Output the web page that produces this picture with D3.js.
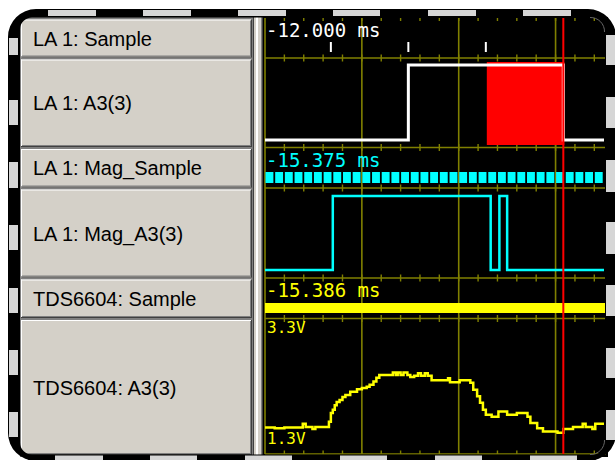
<!DOCTYPE html>
<html><head><meta charset="utf-8">
<script src="https://cdn.jsdelivr.net/npm/d3@7/dist/d3.min.js"></script>
<style>html,body{margin:0;padding:0;background:#fff;overflow:hidden}svg{display:block}</style>
</head><body>
<script>
// ---------------- data ----------------
const rowLabels = ["LA 1: Sample", "LA 1: A3(3)", "LA 1: Mag_Sample", "LA 1: Mag_A3(3)", "TDS6604: Sample", "TDS6604: A3(3)"];
const timeLabels = ["-12.000 ms", "-15.375 ms", "-15.386 ms"];
const voltLabels = ["3.3V", "1.3V"];
const voltDomain = [1.3, 3.3];
const timeDomain = [0, 35];            // time in grid units (10 units per major division)
const sampleTicks = [6.8, 14.8, 22.8]; // LA 1: Sample clock marks
const a3Steps = [[0, 0], [14.8, 1], [30.8, 0], [35, 0]];
const a3Burst = [22.9, 30.8];          // red (fast toggling) region
const magSampleTimes = [0, 1, 2, 3, 4, 5, 6, 7, 8, 9, 10, 11, 12, 13, 14, 15, 16, 17, 18, 19, 20, 21, 22, 23, 24, 25, 26, 27, 28, 29, 30, 31, 32, 33, 34];
const magA3Steps = [[0, 0], [7.0, 1], [23.3, 0], [24.2, 1], [25.0, 0], [35, 0]];
const tdsTime = [0, 1.0, 2.0, 3.9, 4.2, 4.9, 5.2, 6.6, 6.8, 7.0, 7.2, 7.4, 7.7, 8.0, 8.3, 8.8, 9.5, 10.0, 10.5, 10.8, 11.2, 11.5, 11.8, 13.2, 13.5, 13.7, 14.0, 14.3, 14.7, 15.0, 15.4, 15.8, 16.1, 16.5, 16.8, 17.2, 18.9, 19.1, 20.1, 21.2, 21.5, 21.9, 22.2, 22.5, 22.8, 23.4, 24.1, 25.0, 26.0, 27.1, 27.4, 28.1, 28.7, 30.2, 30.8, 31.8, 32.8, 33.1, 33.8, 34.1, 35.0];
const tdsVolt = [1.65, 1.64, 1.65, 1.71, 1.66, 1.63, 1.66, 1.74, 1.88, 1.93, 2.00, 2.05, 2.08, 2.13, 2.16, 2.21, 2.25, 2.27, 2.29, 2.32, 2.37, 2.43, 2.47, 2.51, 2.47, 2.51, 2.47, 2.51, 2.47, 2.44, 2.46, 2.50, 2.46, 2.50, 2.46, 2.39, 2.42, 2.36, 2.39, 2.35, 2.24, 2.14, 2.04, 1.93, 1.85, 1.82, 1.90, 1.85, 1.88, 1.82, 1.72, 1.64, 1.59, 1.57, 1.63, 1.66, 1.71, 1.66, 1.63, 1.71, 1.71];
const cursorTime = 30.8;

// ---------------- layout ----------------
const W = 615, H = 460;
const rowEdges = [18, 58, 147.5, 188, 278, 318.5, 454];
const svg = d3.select("body").append("svg").attr("width", W).attr("height", H);
svg.append("rect").attr("width", W).attr("height", H).attr("fill", "#fff");

const x = d3.scaleLinear().domain(timeDomain).range([265, 604]);
const OLIVE = "#808000";

// ---------------- label panel ----------------
const panel = svg.append("g");
panel.append("rect").attr("x", 20).attr("y", 17).attr("width", 234).attr("height", 440).attr("fill", "#808080");
rowLabels.forEach((lab, i) => {
  const t = rowEdges[i] + 0.5, b = rowEdges[i + 1] + (i === rowLabels.length - 1 ? 2 : 0.5);
  const g = panel.append("g");
  g.append("rect").attr("x", 21).attr("y", t + 1).attr("width", 231).attr("height", b - t - 2).attr("fill", "#d4d0c8");
  g.append("line").attr("x1", 21).attr("x2", 251).attr("y1", t + 1.5).attr("y2", t + 1.5).attr("stroke", "#fff");
  g.append("line").attr("x1", 21.5).attr("x2", 21.5).attr("y1", t + 1).attr("y2", b - 1).attr("stroke", "#fff");
  g.append("line").attr("x1", 21).attr("x2", 252).attr("y1", b - 1.5).attr("y2", b - 1.5).attr("stroke", "#404040");
  g.append("line").attr("x1", 251.5).attr("x2", 251.5).attr("y1", t + 1).attr("y2", b - 1).attr("stroke", "#404040");
  g.append("line").attr("x1", 22).attr("x2", 251).attr("y1", b - 2.5).attr("y2", b - 2.5).attr("stroke", "#808080");
  g.append("line").attr("x1", 250.5).attr("x2", 250.5).attr("y1", t + 2).attr("y2", b - 2).attr("stroke", "#808080");
  g.append("text").attr("x", 33).attr("y", (t + b) / 2 + 7)
    .attr("font-family", "Liberation Sans, Arial, sans-serif").attr("font-size", 20)
    .attr("fill", "#000").text(lab);
});
// splitter
svg.append("rect").attr("x", 253).attr("y", 17).attr("width", 10).attr("height", 440).attr("fill", "#d4d0c8");
[[253.5, "#404040"], [256.5, "#fff"], [257.5, "#fff"], [261.5, "#808080"], [262.5, "#404040"]].forEach(([lx, c]) =>
  svg.append("line").attr("x1", lx).attr("x2", lx).attr("y1", 17).attr("y2", 457).attr("stroke", c));

// ---------------- waveform area ----------------
const wv = svg.append("g");
wv.append("rect").attr("x", 263).attr("y", 17).attr("width", 345).attr("height", 440).attr("fill", "#000");

// grid
const majors = x.ticks(4).filter(d => d > 0);
const minors = d3.range(timeDomain[0] + 2, timeDomain[1], 2);
wv.append("line").attr("x1", x(0)).attr("x2", x(0)).attr("y1", 18).attr("y2", 454).attr("stroke", OLIVE).attr("stroke-width", 1.6);
wv.selectAll(".maj").data(majors).join("line").attr("x1", d => x(d)).attr("x2", d => x(d))
  .attr("y1", 18).attr("y2", 454).attr("stroke", OLIVE).attr("stroke-width", 1.6);
rowEdges.slice(1).forEach((yy, i) => {
  const last = i === rowEdges.length - 2;
  wv.append("line").attr("x1", x(0)).attr("x2", 606).attr("y1", yy).attr("y2", yy).attr("stroke", OLIVE).attr("stroke-width", 1.6);
  wv.selectAll(null).data(minors).join("line").attr("x1", d => x(d)).attr("x2", d => x(d))
    .attr("y1", yy - 3.5).attr("y2", last ? yy : yy + 3.5).attr("stroke", OLIVE).attr("stroke-width", 1.4);
});
wv.selectAll(".topt").data(minors).join("line").attr("x1", d => x(d)).attr("x2", d => x(d))
  .attr("y1", 18).attr("y2", 21).attr("stroke", OLIVE).attr("stroke-width", 1.4);

const mono = "DejaVu Sans Mono, monospace";
// row 1: sample clock
wv.append("text").attr("x", 266).attr("y", 37).attr("font-family", mono).attr("font-size", 19).attr("fill", "#fff").text(timeLabels[0]);
wv.selectAll(".st").data(sampleTicks).join("line").attr("x1", d => x(d)).attr("x2", d => x(d))
  .attr("y1", 42).attr("y2", 52).attr("stroke", "#fff").attr("stroke-width", 2);

// row 2: LA A3(3)
const yA3 = d3.scaleLinear().domain([0, 1]).range([140, 65]);
wv.append("rect").attr("x", x(a3Burst[0])).attr("y", 62).attr("width", x(a3Burst[1]) - x(a3Burst[0]) + 1).attr("height", 83).attr("fill", "#ff0000");
wv.append("path").datum(a3Steps).attr("d", d3.line().x(d => x(d[0])).y(d => yA3(d[1])).curve(d3.curveStepAfter))
  .attr("fill", "none").attr("stroke", "#fff").attr("stroke-width", 3);

// row 3: Mag sample
wv.append("text").attr("x", 266).attr("y", 167).attr("font-family", mono).attr("font-size", 19).attr("fill", "#00ffff").text(timeLabels[1]);
wv.selectAll(".ms").data(magSampleTimes).join("rect").attr("x", d => x(d) + 0.5).attr("y", 172)
  .attr("width", d => x(d + 1) - x(d) - 1.8).attr("height", 11).attr("fill", "#00ffff");

// row 4: Mag A3(3)
const yMag = d3.scaleLinear().domain([0, 1]).range([270, 196]);
wv.append("path").datum(magA3Steps).attr("d", d3.line().x(d => x(d[0])).y(d => yMag(d[1])).curve(d3.curveStepAfter))
  .attr("fill", "none").attr("stroke", "#00ffff").attr("stroke-width", 2.5);

// row 5: TDS sample
wv.append("text").attr("x", 266).attr("y", 297).attr("font-family", mono).attr("font-size", 19).attr("fill", "#ffff00").text(timeLabels[2]);
wv.append("rect").attr("x", x(timeDomain[0])).attr("y", 303).attr("width", x(timeDomain[1]) - x(timeDomain[0]) + 2).attr("height", 10).attr("fill", "#ffff00");

// row 6: analog trace
const yV = d3.scaleLinear().domain(voltDomain).range([450, 322]);
wv.append("text").attr("x", 267).attr("y", 333).attr("font-family", mono).attr("font-size", 16).attr("fill", "#ffff00").text(voltLabels[0]);
wv.append("text").attr("x", 267).attr("y", 444).attr("font-family", mono).attr("font-size", 16).attr("fill", "#ffff00").text(voltLabels[1]);
wv.append("path").datum(tdsTime.map((t, i) => [t, tdsVolt[i]]))
  .attr("d", d3.line().x(d => x(d[0])).y(d => yV(d[1])).curve(d3.curveStepAfter))
  .attr("fill", "none").attr("stroke", "#ffff00").attr("stroke-width", 2.5);

// cursor
wv.append("line").attr("x1", x(cursorTime)).attr("x2", x(cursorTime)).attr("y1", 18).attr("y2", 454)
  .attr("stroke", "#ff0000").attr("stroke-width", 2);

// ---------------- film-strip frame ----------------
function rr(x0, y0, x1, y1, r) {
  return `M${x0 + r},${y0}H${x1 - r}A${r},${r} 0 0 1 ${x1},${y0 + r}V${y1 - r}A${r},${r} 0 0 1 ${x1 - r},${y1}H${x0 + r}A${r},${r} 0 0 1 ${x0},${y1 - r}V${y0 + r}A${r},${r} 0 0 1 ${x0 + r},${y0}Z`;
}
svg.append("path").attr("d", rr(8, 9, 616, 461, 28) + rr(20, 17.5, 605, 454.5, 12))
  .attr("fill", "#000").attr("fill-rule", "evenodd");
const GREY = "#d6d6d6";
const topBlocks = [[48, 96], [143, 191], [238, 286], [333, 380], [428, 476], [523, 571]];
const botBlocks = [[55, 103], [150, 197], [245, 292], [340, 387], [435, 482], [530, 577]];
const leftBlocks = [[38, 55], [100, 125], [162, 188], [225, 250], [288, 313], [350, 375], [412, 437]];
const rightBlocks = [[35, 65], [97, 128], [160, 192], [222, 254], [285, 316], [348, 378], [410, 440]];
topBlocks.forEach(([a, b]) => svg.append("rect").attr("x", a).attr("y", 10).attr("width", b - a).attr("height", 6).attr("fill", GREY));
botBlocks.forEach(([a, b]) => svg.append("rect").attr("x", a).attr("y", 455.5).attr("width", b - a).attr("height", 6).attr("fill", GREY));
leftBlocks.forEach(([a, b]) => svg.append("rect").attr("x", 9).attr("y", a).attr("width", 9).attr("height", b - a).attr("fill", GREY));
rightBlocks.forEach(([a, b]) => svg.append("rect").attr("x", 606).attr("y", a).attr("width", 10).attr("height", b - a).attr("fill", GREY));
// faint inner edge highlight on the right corners
svg.append("path").attr("d", "M590,17.5A14,14 0 0 1 604.5,32").attr("fill", "none").attr("stroke", "#666").attr("stroke-width", 1);
svg.append("path").attr("d", "M604.5,440A14,14 0 0 1 590,454.5").attr("fill", "none").attr("stroke", "#666").attr("stroke-width", 1);
</script>
</body></html>
